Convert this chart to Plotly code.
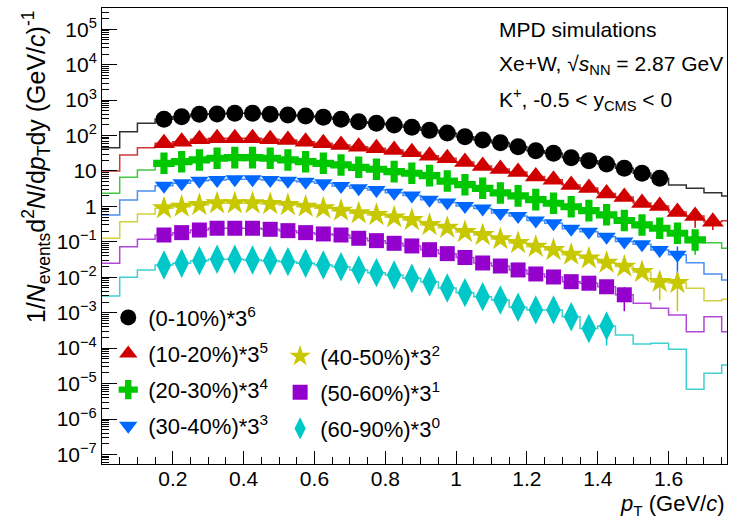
import numpy as np
import plotly.graph_objects as go

# ---------------- data ----------------
BIN_WIDTH = 0.05
BIN_EDGES = np.round(np.arange(0, 36 + 1) * BIN_WIDTH, 3)   # 0 ... 1.8
BIN_CENTERS = np.round(BIN_EDGES[:-1] + BIN_WIDTH / 2, 3)
FIRST_POINT_BIN = 3   # first measured point at pT = 0.175

labels = ["(0-10%)*3<sup>6</sup>", "(10-20%)*3<sup>5</sup>", "(20-30%)*3<sup>4</sup>",
          "(30-40%)*3<sup>3</sup>", "(40-50%)*3<sup>2</sup>", "(50-60%)*3<sup>1</sup>",
          "(60-90%)*3<sup>0</sup>"]

c0_pts = [288, 341, 399, 407, 426, 426, 399, 381, 357, 328, 288, 247, 222, 199, 171,
          140, 118, 93, 75, 63, 48.6, 37.5, 31.6, 23.8, 19.6, 15.8, 11.9, 8.6, 6.2]
c0_err = [0] * 29
c0_lead = [45.5, 129, 222]
c0_tail = [4.03, 3.25, 2.44, 1.97]

c1_pts = [60.6, 67.2, 78.6, 83.9, 83.9, 83.9, 78.6, 75.1, 67.2, 60.6, 54.2, 48.5, 43.7, 39.2, 34.0,
          27.0, 23.0, 17.8, 13.8, 11.4, 9.4, 7.0, 5.7, 4.0, 3.3, 2.3, 1.85, 1.25, 1.02, 0.69, 0.54, 0.372]
c1_err = [0] * 30 + [0.29, 0.156]
c1_lead = [10.0, 28.3, 45.5]
c1_tail = [0.397]

c2_pts = [16.5, 18.3, 20.5, 22.9, 23.8, 23.8, 22.9, 20.5, 18.3, 16.5, 14.8, 12.7, 11.2, 9.58, 8.63,
          7.4, 5.2, 4.1, 3.25, 2.4, 1.98, 1.55, 1.23, 0.98, 0.76, 0.58, 0.40, 0.30, 0.242, 0.175, 0.113]
c2_err = [0] * 29 + [0.02, 0.07]
c2_lead = [2.35, 6.65, 10.7]
c2_tail = [0.095, 0.066]

c3_pts = [3.85, 4.50, 5.33, 5.58, 5.84, 5.84, 5.58, 5.33, 5.0, 4.50, 3.78, 3.25, 2.91, 2.44, 2.02,
          1.55, 1.30, 1.02, 0.87, 0.65, 0.538, 0.40, 0.334, 0.235, 0.194, 0.14, 0.103, 0.085, 0.059, 0.043]
c3_err = [0] * 27 + [0.01, 0.015, 0.031]
c3_lead = [0.574, 1.52, 2.73]
c3_tail = [0.0258, 0.0124, 0.0084]

c4_pts = [0.887, 0.984, 1.10, 1.23, 1.23, 1.23, 1.17, 1.10, 0.984, 0.887, 0.759, 0.641, 0.574, 0.494, 0.415,
          0.30, 0.25, 0.19, 0.156, 0.12, 0.093, 0.073, 0.059, 0.0435, 0.0344, 0.0258, 0.02, 0.0141, 0.0074, 0.0069]
c4_err = [0] * 28 + [0.0052, 0.0058]
c4_lead = [0.126, 0.372, 0.612]
c4_tail = [0.0049, 0.00219, 0.0024]

c5_pts = [0.156, 0.182, 0.216, 0.242, 0.242, 0.242, 0.226, 0.207, 0.182, 0.167, 0.156, 0.126, 0.108, 0.091,
          0.0766, 0.060, 0.0465, 0.0362, 0.0253, 0.0208, 0.0161, 0.0124, 0.0102, 0.0075, 0.0068, 0.0054, 0.0032]
c5_err = [0] * 26 + [0.0021]
c5_lead = [0.0248, 0.073, 0.118]
c5_tail = [0.00185, 0.00133, 0.00086, 0.00029, 0.00077, 0.00029]

c6_pts = [0.0222, 0.0248, 0.0294, 0.0322, 0.0322, 0.0308, 0.0294, 0.0276, 0.0248, 0.0222, 0.0199, 0.0161,
          0.0135, 0.0116, 0.0094, 0.0075, 0.0050, 0.00368, 0.00284, 0.00229, 0.00143, 0.00120, 0.00120,
          0.00077, 0.00036, 0.00042]
c6_err = [0] * 24 + [0.0001, 0.0003]
c6_lead = [0.00297, 0.0100, 0.0161]
c6_tail = [0.000236, 0.000131, 0.000137, 0.000093, 6.9e-6, 1.95e-5, 3.35e-5]

series = [
    (c0_pts, c0_err, c0_lead, c0_tail),
    (c1_pts, c1_err, c1_lead, c1_tail),
    (c2_pts, c2_err, c2_lead, c2_tail),
    (c3_pts, c3_err, c3_lead, c3_tail),
    (c4_pts, c4_err, c4_lead, c4_tail),
    (c5_pts, c5_err, c5_lead, c5_tail),
    (c6_pts, c6_err, c6_lead, c6_tail),
]

x_ticks = [0.2, 0.4, 0.6, 0.8, 1.0, 1.2, 1.4, 1.6]
x_ticktext = ["0.2", "0.4", "0.6", "0.8", "1", "1.2", "1.4", "1.6"]
y_ticks = [10.0 ** e for e in range(-7, 6)]
y_ticktext = ["10<sup>\u22127</sup>", "10<sup>\u22126</sup>", "10<sup>\u22125</sup>", "10<sup>\u22124</sup>",
              "10<sup>\u22123</sup>", "10<sup>\u22122</sup>", "10<sup>\u22121</sup>", "1", "10",
              "10<sup>2</sup>", "10<sup>3</sup>", "10<sup>4</sup>", "10<sup>5</sup>"]

# ---------------- style ----------------
marker_colors = ["#000000", "#d00000", "#00c800", "#0068ff", "#c8c800", "#9400cc", "#00c8c8"]
line_colors = ["#303030", "#d03838", "#40c840", "#4a90f0", "#d0d040", "#b048d8", "#40d0d0"]
symbols = ["circle", "triangle-up", "cross", "triangle-down", "star", "square", "diamond-tall"]
sizes = [17, 19, 18, 16, 18, 15, 21]
FONT = "Liberation Sans, Arial, Helvetica, sans-serif"

fig = go.Figure()

# histogram step lines
for i, (pts, err, lead, tail) in enumerate(series):
    hist = list(lead) + list(pts) + list(tail)
    xs = list(BIN_EDGES[:-1]) + [BIN_EDGES[-1]]
    ys = hist + [hist[-1]]
    fig.add_trace(go.Scatter(x=xs, y=ys, mode="lines", line=dict(color=line_colors[i], width=1.5, shape="hv"),
                             showlegend=False, hoverinfo="skip"))

# data points
for i, (pts, err, lead, tail) in enumerate(series):
    xs = BIN_CENTERS[FIRST_POINT_BIN:FIRST_POINT_BIN + len(pts)]
    fig.add_trace(go.Scatter(
        x=xs, y=pts, mode="markers", name=labels[i],
        marker=dict(symbol=symbols[i], size=sizes[i], color=marker_colors[i], line=dict(width=0)),
        error_y=dict(type="data", array=err, visible=True, color=marker_colors[i], thickness=1.5, width=0),
        legend="legend" if i < 4 else "legend2",
        legendgroup="g%d" % i,
    ))

fig.update_layout(
    width=729, height=530,
    margin=dict(l=102, r=2, t=8, b=66),
    paper_bgcolor="white", plot_bgcolor="white",
    font=dict(family=FONT, size=21, color="black"),
    xaxis=dict(range=[0, 1.765], showgrid=False, zeroline=False, showline=True, linecolor="black",
               linewidth=1, mirror=True, tickmode="array", tickvals=x_ticks, ticktext=x_ticktext,
               ticks="inside", ticklen=13, tickcolor="black", tickfont=dict(size=21), ticklabelstandoff=-4,
               minor=dict(ticks="inside", ticklen=7, dtick=0.05, tick0=0, tickcolor="black")),
    yaxis=dict(type="log", range=[-7.27, 5.6], showgrid=False, zeroline=False, showline=True,
               linecolor="black", linewidth=1, mirror=True, tickmode="array", tickvals=y_ticks,
               ticktext=y_ticktext, ticks="inside", ticklen=15, tickcolor="black", tickfont=dict(size=21),
               minor=dict(ticks="inside", ticklen=7, tickcolor="black",
                          tickvals=[m * 10.0 ** e for e in range(-8, 6) for m in range(2, 10)])),
    legend=dict(x=0.01, y=0.367, xanchor="left", yanchor="top", bgcolor="rgba(0,0,0,0)",
                font=dict(size=22), tracegroupgap=4.5),
    legend2=dict(x=0.285, y=0.282, xanchor="left", yanchor="top", bgcolor="rgba(0,0,0,0)",
                 font=dict(size=22), tracegroupgap=4.5),
)

# texts
fig.add_annotation(xref="paper", yref="paper", x=-0.106, y=1.0, xanchor="center", yanchor="top",
                   textangle=-90, showarrow=False, font=dict(size=25),
                   text="1/<i>N</i><sub>events</sub>d<sup>2</sup><i>N</i>/d<i>p</i><sub>T</sub>dy (GeV/<i>c</i>)<sup>-1</sup>")
fig.add_annotation(xref="paper", yref="paper", x=1.0, y=-0.09, xanchor="right", yanchor="middle",
                   showarrow=False, font=dict(size=22), text="<i>p</i><sub>T</sub> (GeV/<i>c</i>)")
fig.add_annotation(xref="paper", yref="paper", x=0.632, y=0.952, xanchor="left", yanchor="middle",
                   showarrow=False, font=dict(size=21), text="MPD simulations")
fig.add_annotation(xref="paper", yref="paper", x=0.632, y=0.876, xanchor="left", yanchor="middle",
                   showarrow=False, font=dict(size=21),
                   text="Xe+W, \u221A<i>s</i><sub>NN</sub> = 2.87 GeV")
fig.add_annotation(xref="paper", yref="paper", x=0.632, y=0.80, xanchor="left", yanchor="middle",
                   showarrow=False, font=dict(size=21),
                   text="K<sup>+</sup>, -0.5 &lt; y<sub>CMS</sub> &lt; 0")

fig.write_html("out.html")
